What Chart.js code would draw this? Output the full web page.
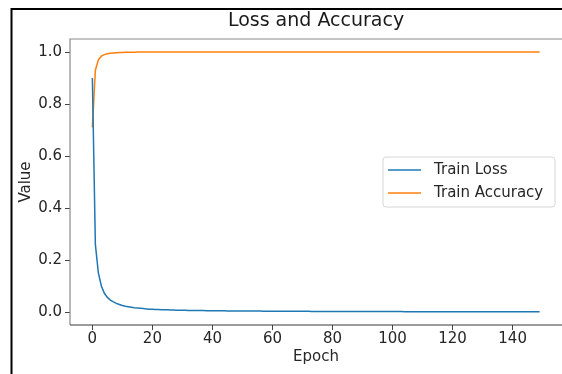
<!DOCTYPE html>
<html>
<head>
<meta charset="utf-8">
<script src="https://cdn.jsdelivr.net/npm/chart.js@4/dist/chart.umd.min.js"></script>
<style>
  html, body { margin: 0; padding: 0; background: #ffffff; }
  #wrap { width: 562px; height: 374px; position: relative; }
</style>
</head>
<body>
<div id="wrap"><canvas id="c" width="562" height="374"></canvas></div>
<script>
const chartTitle = 'Loss and Accuracy';
const xAxisTitle = 'Epoch';
const yAxisTitle = 'Value';
const seriesNames = ['Train Loss', 'Train Accuracy'];

const xTickValues = [0, 20, 40, 60, 80, 100, 120, 140];
const yTickValues = [0.0, 0.2, 0.4, 0.6, 0.8, 1.0];
const yTickLabels = ['0.0', '0.2', '0.4', '0.6', '0.8', '1.0'];

const trainLoss = [
  0.90, 0.26, 0.15, 0.10, 0.072, 0.056, 0.046, 0.039, 0.033, 0.029,
  0.025, 0.022, 0.020, 0.018, 0.016, 0.015, 0.014, 0.013, 0.012, 0.011,
  0.0105, 0.0100, 0.0095, 0.0090, 0.0086, 0.0082, 0.0078, 0.0075, 0.0072, 0.0069,
  0.0066, 0.0064, 0.0062, 0.0060, 0.0058, 0.0056, 0.0054, 0.0053, 0.0051, 0.0050,
  0.0049, 0.0047, 0.0046, 0.0045, 0.0044, 0.0043, 0.0042, 0.0041, 0.0040, 0.0039,
  0.0038, 0.0037, 0.0037, 0.0036, 0.0035, 0.0034, 0.0034, 0.0033, 0.0032, 0.0032,
  0.0031, 0.0030, 0.0030, 0.0029, 0.0029, 0.0028, 0.0028, 0.0027, 0.0027, 0.0026,
  0.0026, 0.0025, 0.0025, 0.0024, 0.0024, 0.0023, 0.0023, 0.0023, 0.0022, 0.0022,
  0.0021, 0.0021, 0.0021, 0.0020, 0.0020, 0.0020, 0.0019, 0.0019, 0.0019, 0.0018,
  0.0018, 0.0018, 0.0017, 0.0017, 0.0017, 0.0017, 0.0016, 0.0016, 0.0016, 0.0016,
  0.0015, 0.0015, 0.0015, 0.0015, 0.0014, 0.0014, 0.0014, 0.0014, 0.0014, 0.0013,
  0.0013, 0.0013, 0.0013, 0.0013, 0.0013, 0.0012, 0.0012, 0.0012, 0.0012, 0.0012,
  0.0012, 0.0011, 0.0011, 0.0011, 0.0011, 0.0011, 0.0011, 0.0011, 0.0010, 0.0010,
  0.0010, 0.0010, 0.0010, 0.0010, 0.0010, 0.0010, 0.0010, 0.0010, 0.0010, 0.0010,
  0.0010, 0.0010, 0.0009, 0.0009, 0.0009, 0.0009, 0.0009, 0.0009, 0.0009, 0.0009
];

const trainAccuracy = [
  0.71, 0.93, 0.97, 0.984, 0.990, 0.993, 0.995, 0.996, 0.997, 0.998,
  0.998, 0.999, 0.999, 0.999, 0.9995, 1.0, 1.0, 1.0, 1.0, 1.0,
  1.0, 1.0, 1.0, 1.0, 1.0, 1.0, 1.0, 1.0, 1.0, 1.0,
  1.0, 1.0, 1.0, 1.0, 1.0, 1.0, 1.0, 1.0, 1.0, 1.0,
  1.0, 1.0, 1.0, 1.0, 1.0, 1.0, 1.0, 1.0, 1.0, 1.0,
  1.0, 1.0, 1.0, 1.0, 1.0, 1.0, 1.0, 1.0, 1.0, 1.0,
  1.0, 1.0, 1.0, 1.0, 1.0, 1.0, 1.0, 1.0, 1.0, 1.0,
  1.0, 1.0, 1.0, 1.0, 1.0, 1.0, 1.0, 1.0, 1.0, 1.0,
  1.0, 1.0, 1.0, 1.0, 1.0, 1.0, 1.0, 1.0, 1.0, 1.0,
  1.0, 1.0, 1.0, 1.0, 1.0, 1.0, 1.0, 1.0, 1.0, 1.0,
  1.0, 1.0, 1.0, 1.0, 1.0, 1.0, 1.0, 1.0, 1.0, 1.0,
  1.0, 1.0, 1.0, 1.0, 1.0, 1.0, 1.0, 1.0, 1.0, 1.0,
  1.0, 1.0, 1.0, 1.0, 1.0, 1.0, 1.0, 1.0, 1.0, 1.0,
  1.0, 1.0, 1.0, 1.0, 1.0, 1.0, 1.0, 1.0, 1.0, 1.0,
  1.0, 1.0, 1.0, 1.0, 1.0, 1.0, 1.0, 1.0, 1.0, 1.0
];

const epochs = trainLoss.map((_, i) => i);
const seriesColors = ['#1f77b4', '#ff7f0e'];
const FONT = "'DejaVu Sans', sans-serif";

const framePlugin = {
  id: 'frame',
  afterDraw(chart) {
    const ctx = chart.ctx;
    const a = chart.chartArea;
    ctx.save();
    // axes frame (spines); right spine falls just outside the picture
    ctx.lineWidth = 1.2;
    ctx.strokeStyle = '#8a8a8a';
    ctx.beginPath();
    ctx.moveTo(a.left, a.bottom);
    ctx.lineTo(a.left, a.top);
    ctx.lineTo(a.right + 2, a.top);
    ctx.stroke();
    ctx.strokeStyle = '#3a3a3a';
    ctx.beginPath();
    ctx.moveTo(a.left, a.bottom);
    ctx.lineTo(a.right + 2, a.bottom);
    ctx.stroke();

    // legend box
    const lx = 383, ly = 157, lw = 172, lh = 50, r = 3;
    ctx.fillStyle = 'rgba(255,255,255,0.85)';
    ctx.strokeStyle = '#d6d6d6';
    ctx.lineWidth = 1;
    ctx.beginPath();
    ctx.moveTo(lx + r, ly);
    ctx.arcTo(lx + lw, ly, lx + lw, ly + lh, r);
    ctx.arcTo(lx + lw, ly + lh, lx, ly + lh, r);
    ctx.arcTo(lx, ly + lh, lx, ly, r);
    ctx.arcTo(lx, ly, lx + lw, ly, r);
    ctx.closePath();
    ctx.fill();
    ctx.stroke();
    const rows = [170, 193];
    chart.data.datasets.forEach((ds, i) => {
      ctx.strokeStyle = ds.borderColor;
      ctx.lineWidth = 1.5;
      ctx.beginPath();
      ctx.moveTo(388, rows[i]);
      ctx.lineTo(421, rows[i]);
      ctx.stroke();
      ctx.fillStyle = '#262626';
      ctx.font = '15px ' + FONT;
      ctx.textBaseline = 'middle';
      ctx.textAlign = 'left';
      ctx.fillText(ds.label, 434, rows[i]);
    });

    // outer black screenshot border
    ctx.strokeStyle = '#000000';
    ctx.lineWidth = 2;
    ctx.beginPath();
    ctx.moveTo(11.5, 374);
    ctx.lineTo(11.5, 9);
    ctx.lineTo(562, 9);
    ctx.stroke();
    ctx.restore();
  }
};

new Chart(document.getElementById('c'), {
  type: 'line',
  data: {
    datasets: [
      {
        label: seriesNames[0],
        data: trainLoss.map((v, i) => ({ x: epochs[i], y: v })),
        borderColor: seriesColors[0],
        backgroundColor: seriesColors[0],
        borderWidth: 1.5,
        pointRadius: 0,
        tension: 0,
        fill: false
      },
      {
        label: seriesNames[1],
        data: trainAccuracy.map((v, i) => ({ x: epochs[i], y: v })),
        borderColor: seriesColors[1],
        backgroundColor: seriesColors[1],
        borderWidth: 1.5,
        pointRadius: 0,
        tension: 0,
        fill: false
      }
    ]
  },
  options: {
    responsive: false,
    animation: false,
    devicePixelRatio: 1,
    layout: { padding: { left: 0, right: 0, top: 0, bottom: 0 } },
    plugins: {
      legend: { display: false },
      tooltip: { enabled: false },
      title: {
        display: true,
        text: chartTitle,
        fullSize: false,
        color: '#1a1a1a',
        font: { family: FONT, size: 19, weight: 'normal' },
        padding: { top: 9.5, bottom: 6.7 }
      }
    },
    scales: {
      x: {
        type: 'linear',
        min: -7.45,
        max: 156.45,
        afterBuildTicks(scale) { scale.ticks = xTickValues.map(v => ({ value: v })); },
        afterFit(scale) { scale.height = 49; },
        ticks: {
          color: '#262626',
          font: { family: FONT, size: 15 },
          padding: 0,
          maxRotation: 0,
          autoSkip: false,
          callback: (v) => String(v)
        },
        grid: { display: true, drawOnChartArea: false, drawTicks: true, tickLength: 5, color: 'rgba(0,0,0,0)', tickColor: '#444', tickWidth: 1 },
        border: { display: false },
        title: {
          display: true,
          text: xAxisTitle,
          color: '#262626',
          font: { family: FONT, size: 15 },
          padding: { top: 0, bottom: 8 }
        }
      },
      y: {
        type: 'linear',
        min: -0.05,
        max: 1.05,
        afterBuildTicks(scale) { scale.ticks = yTickValues.map(v => ({ value: v })); },
        afterFit(scale) { scale.width = 70; },
        ticks: {
          color: '#262626',
          font: { family: FONT, size: 15 },
          padding: 3,
          autoSkip: false,
          callback: (v) => yTickLabels[yTickValues.findIndex(t => Math.abs(t - v) < 1e-9)]
        },
        grid: { display: true, drawOnChartArea: false, drawTicks: true, tickLength: 5, color: 'rgba(0,0,0,0)', tickColor: '#444', tickWidth: 1 },
        border: { display: false },
        title: {
          display: true,
          text: yAxisTitle,
          color: '#262626',
          font: { family: FONT, size: 15 },
          padding: { top: 17, bottom: 0 }
        }
      }
    }
  },
  plugins: [framePlugin]
});
</script>
</body>
</html>
